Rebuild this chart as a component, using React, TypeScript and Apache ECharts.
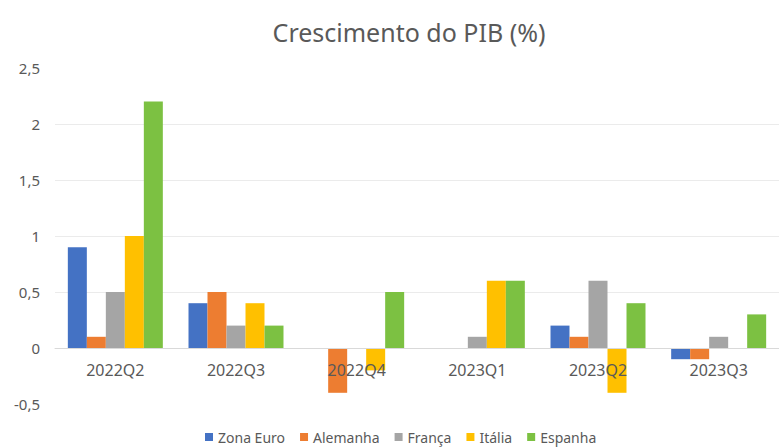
import React, { useEffect, useRef } from "react";
import * as echarts from "echarts";

const categories = ["2022Q2", "2022Q3", "2022Q4", "2023Q1", "2023Q2", "2023Q3"];
const zonaEuro = [0.9, 0.4, 0, 0, 0.2, -0.1];
const alemanha = [0.1, 0.5, -0.4, 0, 0.1, -0.1];
const franca = [0.5, 0.2, 0, 0.1, 0.6, 0.1];
const italia = [1.0, 0.4, -0.2, 0.6, -0.4, 0];
const espanha = [2.2, 0.2, 0.5, 0.6, 0.4, 0.3];

const seriesDefs = [
  { name: "Zona Euro", data: zonaEuro, color: "#4472C4" },
  { name: "Alemanha", data: alemanha, color: "#ED7D31" },
  { name: "França", data: franca, color: "#A5A5A5" },
  { name: "Itália", data: italia, color: "#FFC000" },
  { name: "Espanha", data: espanha, color: "#7CC142" },
];

const FONT = "'Noto Sans', 'Open Sans', sans-serif";
const TXT = "#595959";

export default function App() {
  const ref = useRef<HTMLDivElement>(null);
  useEffect(() => {
    document.body.style.margin = "0";
    const chart = echarts.init(ref.current!, null, { renderer: "svg" });
    chart.setOption({
      animation: false,
      backgroundColor: "#ffffff",
      textStyle: { fontFamily: FONT },
      title: {
        text: "Crescimento do PIB (%)",
        left: 404,
        top: 14,
        textAlign: "center",
        textStyle: { fontFamily: FONT, fontSize: 25, fontWeight: "normal", color: TXT },
      },
      legend: {
        bottom: -1,
        left: 200,
        itemWidth: 8,
        itemHeight: 8,
        itemGap: 15,
        icon: "rect",
        textStyle: { fontFamily: FONT, fontSize: 14, color: TXT },
        data: seriesDefs.map((s) => s.name),
      },
      grid: { left: 55, right: -10, top: 68, bottom: 44, containLabel: false },
      xAxis: {
        type: "category",
        data: categories,
        z: 10,
        axisLine: { show: true, onZero: true, lineStyle: { color: "#D9D9D9", width: 1 } },
        axisTick: { show: false },
        axisLabel: { fontFamily: FONT, fontSize: 16, color: TXT, margin: -42 },
      },
      yAxis: {
        type: "value",
        min: -0.5,
        max: 2.5,
        interval: 0.5,
        axisLine: { show: false },
        axisTick: { show: false },
        splitLine: { show: true, showMinLine: false, showMaxLine: false, lineStyle: { color: "#EBEBEB", width: 1 } },
        axisLabel: {
          fontFamily: FONT,
          fontSize: 15,
          color: TXT,
          margin: 15,
          formatter: (v: number) => String(v).replace(".", ","),
        },
      },
      series: seriesDefs.map((s) => ({
        name: s.name,
        type: "bar",
        data: s.data,
        barWidth: 19,
        barGap: "0%",
        itemStyle: { color: s.color },
      })),
    });
    return () => chart.dispose();
  }, []);
  return <div ref={ref} style={{ width: 779, height: 448 }} />;
}
